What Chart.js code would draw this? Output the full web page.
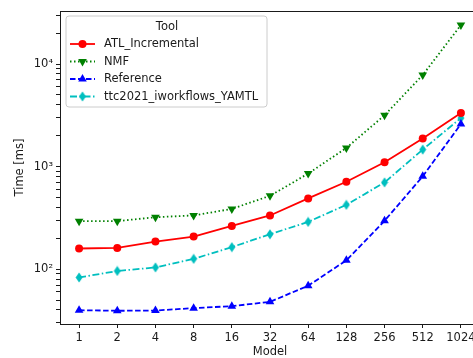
<!DOCTYPE html>
<html>
<head>
<meta charset="utf-8">
<script src="https://cdn.jsdelivr.net/npm/chart.js@4/dist/chart.umd.min.js"></script>
<style>
  html, body { margin: 0; padding: 0; background: #fff; overflow: hidden; }
  #timeChart { display: block; }
</style>
</head>
<body>
<canvas id="timeChart" width="480" height="358"></canvas>
<script>
// --- data ---
const models = ["1", "2", "4", "8", "16", "32", "64", "128", "256", "512", "1024"];
const atlIncremental = [159, 161, 186, 208, 264, 334, 490, 711, 1101, 1884, 3335];
const nmf = [294, 294, 321, 334, 387, 519, 855, 1521, 3165, 7820, 24000];
const reference = [39.8, 39.3, 39.5, 41.7, 43.6, 48, 69, 122, 296, 804, 2600];
const yamtl = [83, 96, 104, 126, 164, 219, 289, 424, 701, 1466, 2977];
const seriesNames = ["ATL_Incremental", "NMF", "Reference", "ttc2021_iworkflows_YAMTL"];
const yTickLabels = { 2: "10²", 3: "10³", 4: "10⁴" };

const FONT = "'DejaVu Sans', sans-serif";
const FS = 11.5;
const INK = "#1a1a1a";

// thin diamond marker (matplotlib 'd')
function thinDiamond(color) {
      const c = document.createElement("canvas");
      c.width = 8; c.height = 11;
      const g = c.getContext("2d");
      g.fillStyle = color;
      g.beginPath();
      g.moveTo(4, 0.5); g.lineTo(7.5, 5.5); g.lineTo(4, 10.5); g.lineTo(0.5, 5.5);
      g.closePath();
      g.fill();
      return c;
}

const styles = [
      { color: "#ff0000", dash: [], point: "circle", rot: 0, r: 4 },
      { color: "#008000", dash: [1.5, 2.5], point: "triangle", rot: 180, r: 5 },
      { color: "#0000ff", dash: [5.5, 2.5], point: "triangle", rot: 0, r: 5 },
      { color: "#00bfbf", dash: [7, 2.5, 1.5, 2.5], point: thinDiamond("#00bfbf"), rot: 0, r: 4 },
];
const values = [atlIncremental, nmf, reference, yamtl];

const datasets = values.map((v, i) => ({
      label: seriesNames[i],
      data: v,
      borderColor: styles[i].color,
      backgroundColor: styles[i].color,
      borderWidth: 1.8,
      borderDash: styles[i].dash,
      pointStyle: styles[i].point,
      pointRotation: styles[i].rot,
      pointRadius: styles[i].r,
      pointBorderWidth: 0,
      tension: 0,
}));

// --- frame (top spine) and legend inside the plot ---
const framePlugin = {
      id: "frame",
      afterDraw(chart) {
            const ctx = chart.ctx;
            const a = chart.chartArea;
            ctx.save();
            ctx.strokeStyle = INK;
            ctx.lineWidth = 1;
            ctx.beginPath();
            ctx.moveTo(a.left, a.top + 0.5);
            ctx.lineTo(a.right, a.top + 0.5);
            ctx.stroke();

            // legend box
            const bx = 66, by = 16, bw = 201, bh = 91, rr = 3;
            ctx.fillStyle = "rgba(255,255,255,0.85)";
            ctx.strokeStyle = "#cccccc";
            ctx.beginPath();
            ctx.moveTo(bx + rr, by);
            ctx.arcTo(bx + bw, by, bx + bw, by + bh, rr);
            ctx.arcTo(bx + bw, by + bh, bx, by + bh, rr);
            ctx.arcTo(bx, by + bh, bx, by, rr);
            ctx.arcTo(bx, by, bx + bw, by, rr);
            ctx.closePath();
            ctx.fill();
            ctx.stroke();

            ctx.fillStyle = INK;
            ctx.font = FS + "px " + FONT;
            ctx.textAlign = "center";
            ctx.textBaseline = "middle";
            ctx.fillText("Tool", 167, 27);

            const rows = [44, 61.5, 79, 96.5];
            ctx.textAlign = "left";
            chart.data.datasets.forEach((ds, i) => {
                  const y = rows[i];
                  const st = styles[i];
                  ctx.strokeStyle = st.color;
                  ctx.lineWidth = 1.8;
                  ctx.setLineDash(st.dash);
                  ctx.beginPath();
                  ctx.moveTo(70, y);
                  ctx.lineTo(95, y);
                  ctx.stroke();
                  ctx.setLineDash([]);
                  ctx.fillStyle = st.color;
                  if (st.point === "circle") {
                        ctx.beginPath();
                        ctx.arc(82.5, y, 4, 0, Math.PI * 2);
                        ctx.fill();
                  } else if (st.point === "triangle") {
                        const s = st.rot === 180 ? -1 : 1;
                        ctx.beginPath();
                        ctx.moveTo(82.5, y - 5 * s);
                        ctx.lineTo(86.8, y + 2.5 * s);
                        ctx.lineTo(78.2, y + 2.5 * s);
                        ctx.closePath();
                        ctx.fill();
                  } else {
                        ctx.drawImage(st.point, 82.5 - 4, y - 5.5);
                  }
                  ctx.fillStyle = INK;
                  ctx.fillText(ds.label, 104, y + 0.5);
            });
            ctx.restore();
      },
};

new Chart(document.getElementById("timeChart"), {
      type: "line",
      data: { labels: models, datasets: datasets },
      options: {
            responsive: false,
            animation: false,
            devicePixelRatio: 1,
            layout: { autoPadding: false, padding: { top: 11, left: 0, right: 0, bottom: 0 } },
            plugins: {
                  legend: { display: false },
                  tooltip: { enabled: false },
            },
            scales: {
                  x: {
                        type: "category",
                        offset: true,
                        grid: {
                              display: true,
                              drawOnChartArea: false,
                              drawTicks: true,
                              tickLength: 4,
                              tickColor: INK,
                              offset: false,
                        },
                        border: { display: true, color: INK, width: 1 },
                        ticks: {
                              color: INK,
                              font: { family: FONT, size: FS },
                              padding: 3,
                              maxRotation: 0,
                              autoSkip: false,
                        },
                        title: {
                              display: true,
                              text: "Model",
                              color: INK,
                              font: { family: FONT, size: FS, lineHeight: 1 },
                              padding: { top: 0, bottom: 0 },
                        },
                        afterFit(scale) {
                              scale.height = 34;
                              scale.paddingLeft = 0;
                              scale.paddingRight = 0;
                        },
                  },
                  y: {
                        type: "logarithmic",
                        min: 29.2,
                        max: 32900,
                        grid: {
                              display: true,
                              drawOnChartArea: false,
                              drawTicks: true,
                              tickLength: 4,
                              tickColor: INK,
                        },
                        border: { display: true, color: INK, width: 1 },
                        afterBuildTicks(scale) {
                              scale.ticks = scale.ticks.filter((t) => {
                                    const m = t.value / Math.pow(10, Math.floor(Math.log10(t.value) + 1e-9));
                                    return Math.abs(m - Math.round(m)) < 1e-6;
                              });
                        },
                        ticks: {
                              color: INK,
                              font: { family: FONT, size: FS },
                              padding: 3,
                              autoSkip: false,
                              callback(value) {
                                    const p = Math.log10(value);
                                    const r = Math.round(p);
                                    return Math.abs(p - r) < 1e-9 && yTickLabels[r] ? yTickLabels[r] : "";
                              },
                        },
                        title: {
                              display: true,
                              text: "Time [ms]",
                              color: INK,
                              font: { family: FONT, size: FS, lineHeight: 1 },
                              padding: { top: 14, bottom: 0 },
                        },
                        afterFit(scale) { scale.width = 60; },
                  },
            },
      },
      plugins: [framePlugin],
});
</script>
</body>
</html>
